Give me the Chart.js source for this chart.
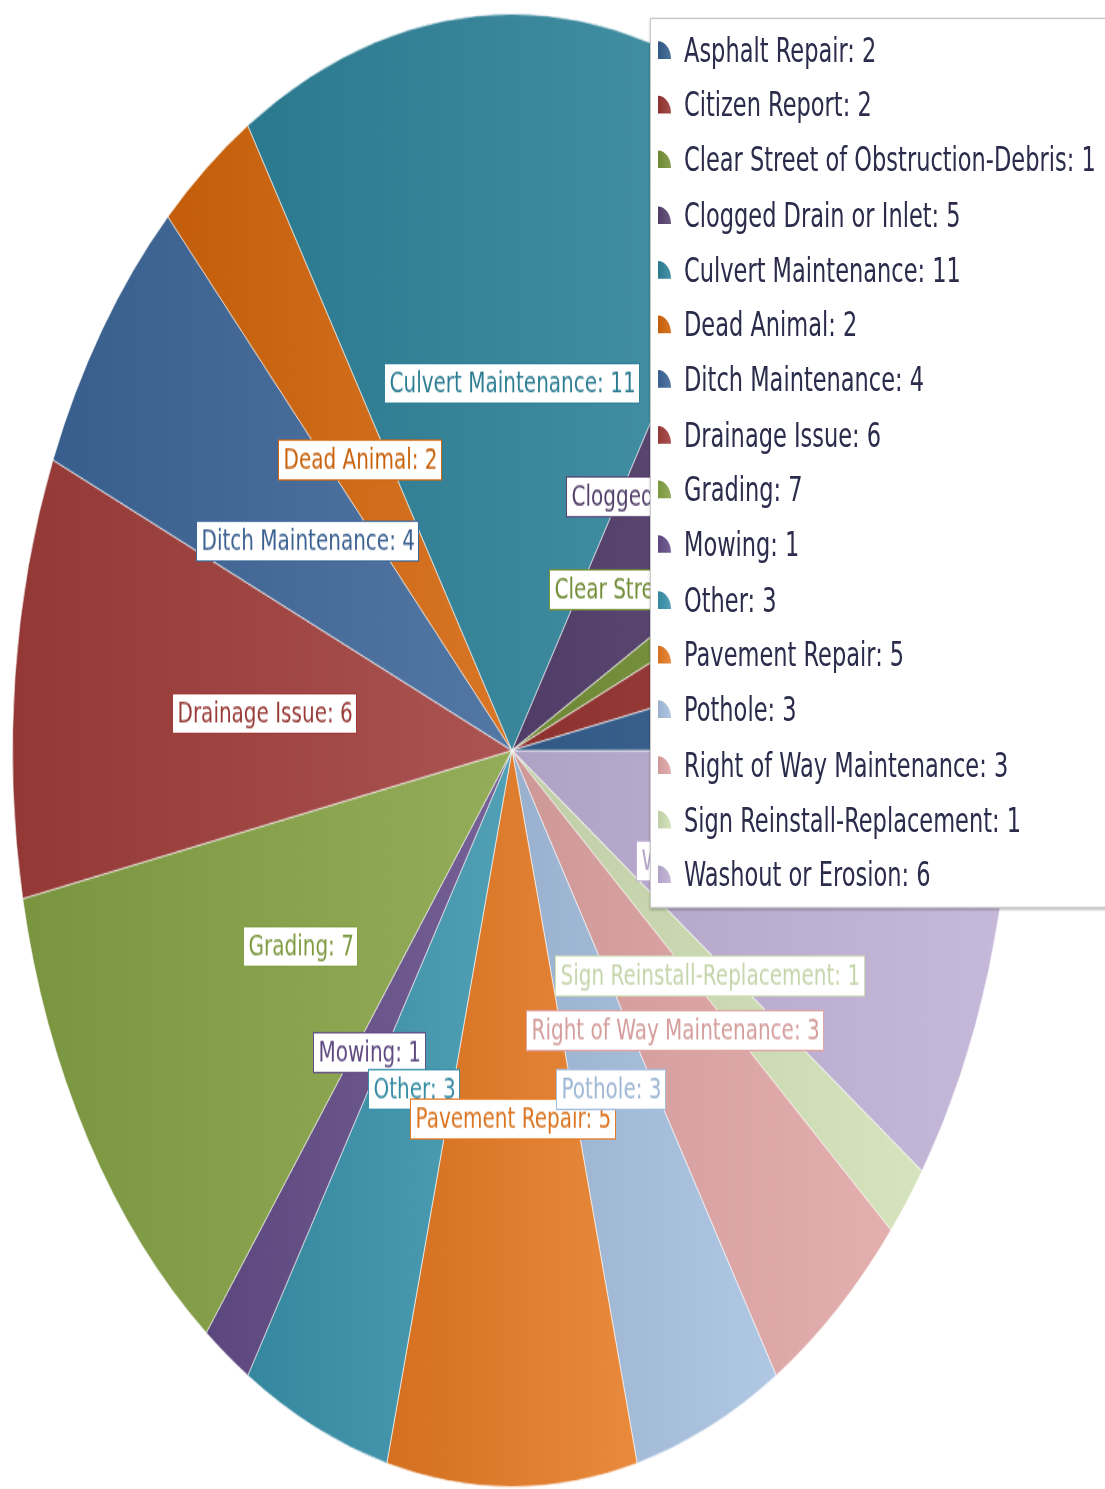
<!DOCTYPE html>
<html>
<head>
    <title>Requests by Type</title>
    <script src="https://cdn.jsdelivr.net/npm/chart.js"></script>
    <style>
        html, body { margin: 0; padding: 0; background: #fff; overflow: hidden; }
        #page { position: relative; width: 1105px; height: 1489px; overflow: hidden; }
        /* the whole picture is drawn flat, then stretched vertically */
        #stage {
            position: absolute;
            left: 0;
            top: 0;
            width: 1105px;
            height: 1010px;
            transform: scale(1, 1.4743);
            transform-origin: 0 0;
        }
        #pieChart { position: absolute; left: 0; top: 0; }
        #legend {
            position: absolute;
            left: 650px;
            top: 11.5px;
            width: 470px;
            padding: 2.5px 0 3px 0;
            background: #fff;
            border: 1px solid #c9c9c9;
            box-shadow: 0 1px 2px rgba(0, 0, 0, 0.25);
            font-family: "DejaVu Sans", Verdana, sans-serif;
            font-size: 22.5px;
            color: #2b2b4b;
        }
        .legend-item {
            display: flex;
            align-items: center;
            height: 37.3px;
            white-space: nowrap;
        }
        .legend-icon {
            width: 13px;
            height: 12px;
            margin-left: 7px;
            margin-right: 13px;
            border-top-right-radius: 100%;
            flex: none;
        }
    </style>
</head>
<body>
    <div id="page">
        <div id="stage">
            <canvas id="pieChart" width="1105" height="1010"></canvas>
            <div id="legend"></div>
        </div>
    </div>

    <script>
        const categories = [
            'Asphalt Repair', 'Citizen Report', 'Clear Street of Obstruction-Debris',
            'Clogged Drain or Inlet', 'Culvert Maintenance', 'Dead Animal',
            'Ditch Maintenance', 'Drainage Issue', 'Grading', 'Mowing', 'Other',
            'Pavement Repair', 'Pothole', 'Right of Way Maintenance',
            'Sign Reinstall-Replacement', 'Washout or Erosion'
        ];
        const counts = [2, 2, 1, 5, 11, 2, 4, 6, 7, 1, 3, 5, 3, 3, 1, 6];
        const colors = [
            '#34608f', '#993532', '#769338', '#574270', '#2f849b', '#d4650a',
            '#3d6699', '#a03d3a', '#85a244', '#634d88', '#3993ac', '#e67a22',
            '#a6c0e0', '#e0a5a4', '#d0e0b4', '#bfb0d5'
        ];

        function shade(hex, amt) {
            const n = parseInt(hex.slice(1), 16);
            const t = amt < 0 ? 0 : 255, p = Math.abs(amt);
            const ch = v => Math.round(v + (t - v) * p);
            return `rgb(${ch(n >> 16)}, ${ch((n >> 8) & 255)}, ${ch(n & 255)})`;
        }

        // slices run counterclockwise from 3 o'clock, Chart.js goes clockwise -> reverse
        const pieLabels = categories.slice().reverse();
        const pieValues = counts.slice().reverse();
        const pieColors = colors.slice().reverse();
        const total = counts.reduce((a, b) => a + b, 0);

        // horizontal gradient across each slice, dark on the left, light on the right
        function sliceFill(c) {
            const base = pieColors[c.dataIndex];
            const area = c.chart.chartArea;
            if (c.type !== 'data' || !area) return base;
            const cx = (area.left + area.right) / 2;
            const r = Math.min(area.width, area.height) / 2;
            let before = 0;
            for (let i = 0; i < c.dataIndex; i++) before += pieValues[i];
            const a0 = before / total * Math.PI * 2;
            const a1 = (before + pieValues[c.dataIndex]) / total * Math.PI * 2;
            const xs = [cx, cx + r * Math.cos(a0), cx + r * Math.cos(a1)];
            if (a0 < Math.PI && a1 > Math.PI) xs.push(cx - r);
            const x0 = Math.min(...xs), x1 = Math.max(...xs);
            const g = c.chart.ctx.createLinearGradient(x0, 0, x1 + 1, 0);
            g.addColorStop(0, shade(base, -0.08));
            g.addColorStop(1, shade(base, 0.12));
            return g;
        }

        const sliceLabels = {
            id: 'sliceLabels',
            afterDatasetsDraw(chart) {
                const ctx = chart.ctx;
                const meta = chart.getDatasetMeta(0);
                ctx.save();
                ctx.font = '20px "DejaVu Sans"';
                ctx.textBaseline = 'middle';
                ctx.textAlign = 'left';
                categories.forEach((name, k) => {
                    const arc = meta.data[categories.length - 1 - k];
                    const p = arc.getCenterPoint();
                    const text = name + ': ' + counts[k];
                    const w = ctx.measureText(text).width;
                    const bw = Math.round(w + 9), bh = 27;
                    const x = Math.round(p.x - bw / 2) + 0.5;
                    const y = Math.round(p.y - bh / 2) + 0.5;
                    ctx.fillStyle = '#fff';
                    ctx.fillRect(x, y, bw, bh);
                    ctx.strokeStyle = colors[k];
                    ctx.lineWidth = 1;
                    ctx.strokeRect(x, y, bw, bh);
                    ctx.fillStyle = shade(colors[k], -0.05);
                    ctx.fillText(text, x + 5, y + bh / 2 + 1);
                });
                ctx.restore();
            }
        };

        const legend = document.getElementById('legend');
        categories.forEach((name, k) => {
            const item = document.createElement('div');
            item.className = 'legend-item';
            const icon = document.createElement('span');
            icon.className = 'legend-icon';
            icon.style.background = `linear-gradient(to right, ${shade(colors[k], -0.08)}, ${shade(colors[k], 0.12)})`;
            const label = document.createElement('span');
            label.textContent = name + ': ' + counts[k];
            item.appendChild(icon);
            item.appendChild(label);
            legend.appendChild(item);
        });

        new Chart(document.getElementById('pieChart').getContext('2d'), {
            type: 'pie',
            data: {
                labels: pieLabels,
                datasets: [{
                    data: pieValues,
                    backgroundColor: sliceFill,
                    borderColor: 'rgba(255, 255, 255, 0.6)',
                    borderWidth: 1
                }]
            },
            options: {
                responsive: false,
                animation: false,
                rotation: 90,
                layout: { padding: { left: 6, right: 87, top: 9, bottom: 1 } },
                plugins: {
                    legend: { display: false },
                    tooltip: { enabled: false }
                }
            },
            plugins: [sliceLabels]
        });
    </script>
</body>
</html>
